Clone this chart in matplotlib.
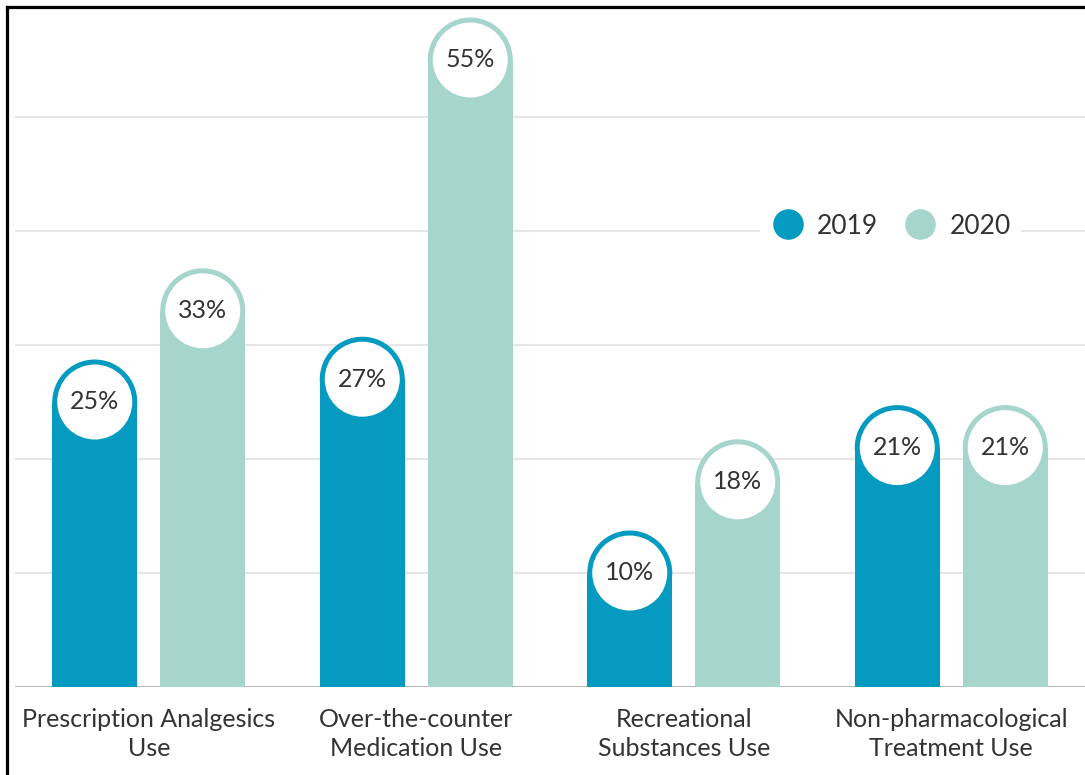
import matplotlib
matplotlib.use("Agg")
import matplotlib.pyplot as plt
from matplotlib.patches import Ellipse
from matplotlib.lines import Line2D
import numpy as np

categories = ["Prescription Analgesics\nUse", "Over-the-counter\nMedication Use",
              "Recreational\nSubstances Use", "Non-pharmacological\nTreatment Use"]
series_names = ["2019", "2020"]
values_2019 = [25, 27, 10, 21]
values_2020 = [33, 55, 18, 21]
colors = ["#059ac0", "#a6d5cb"]

plt.rcParams['font.family'] = ['Lato', 'DejaVu Sans']

W, H = 1085, 775
fig = plt.figure(figsize=(W / 100, H / 100), dpi=100)
ax_l, ax_r, ax_b, ax_t = 15, 1085, 687, 10
ax = fig.add_axes([ax_l / W, (H - ax_b) / H, (ax_r - ax_l) / W, (ax_b - ax_t) / H])

ymax = (ax_b - ax_t) / 11.4
ax.set_xlim(-0.5, 3.5)
ax.set_ylim(0, ymax)

px_x = (ax_r - ax_l) / 4.0   # pixels per x unit
px_y = (ax_b - ax_t) / ymax  # pixels per y unit

bar_w = 85 / px_x
offset = 54 / px_x
r_out = 42.5
r_in = 37.5

x = np.arange(len(categories))
for vals, off, col in [(values_2019, -offset, colors[0]), (values_2020, offset, colors[1])]:
    ax.bar(x + off, vals, width=bar_w, color=col, zorder=3, linewidth=0)
    for xi, v in zip(x, vals):
        ax.add_patch(Ellipse((xi + off, v), 2 * r_out / px_x, 2 * r_out / px_y,
                             facecolor=col, edgecolor='none', zorder=3))
        ax.add_patch(Ellipse((xi + off, v), 2 * r_in / px_x, 2 * r_in / px_y,
                             facecolor='white', edgecolor='none', zorder=4))
        ax.text(xi + off, v, f"{v}%", ha='center', va='center', fontsize=18,
                color='#333333', zorder=5)

ax.set_yticks([10, 20, 30, 40, 50])
ax.yaxis.grid(True, color='#e6e6e6', linewidth=1.5, zorder=0)
ax.set_axisbelow(True)
ax.tick_params(axis='y', left=False, labelleft=False)
ax.set_xticks(x)
ax.set_xticklabels(categories, fontsize=18, color='#333333', linespacing=1.3)
ax.tick_params(axis='x', length=0, pad=15)
for s in ax.spines.values():
    s.set_visible(False)
ax.axhline(0, color='#b0b0b0', linewidth=2, zorder=2)

handles = [Line2D([], [], marker='o', linestyle='none', markersize=22,
                  markerfacecolor=c, markeredgecolor='none') for c in colors]
leg = ax.legend(handles, series_names, ncol=2, loc='center',
                bbox_to_anchor=((890.5 - ax_l) / (ax_r - ax_l), (ax_b - 226) / (ax_b - ax_t)),
                frameon=True, fontsize=19, handletextpad=0.45, columnspacing=0.96,
                borderpad=0.4, handlelength=1.3)
leg.get_frame().set_facecolor('white')
leg.get_frame().set_edgecolor('none')
leg.get_frame().set_alpha(1)
for t in leg.get_texts():
    t.set_color('#333333')

# figure border (left and top only)
fig.add_artist(Line2D([7 / W, 7 / W], [0, 1 - 7 / H], color='black', linewidth=2.3,
                      transform=fig.transFigure))
fig.add_artist(Line2D([7 / W, 1], [1 - 7 / H, 1 - 7 / H], color='black', linewidth=2.3,
                      transform=fig.transFigure))

fig.savefig("out.png", dpi=100)
